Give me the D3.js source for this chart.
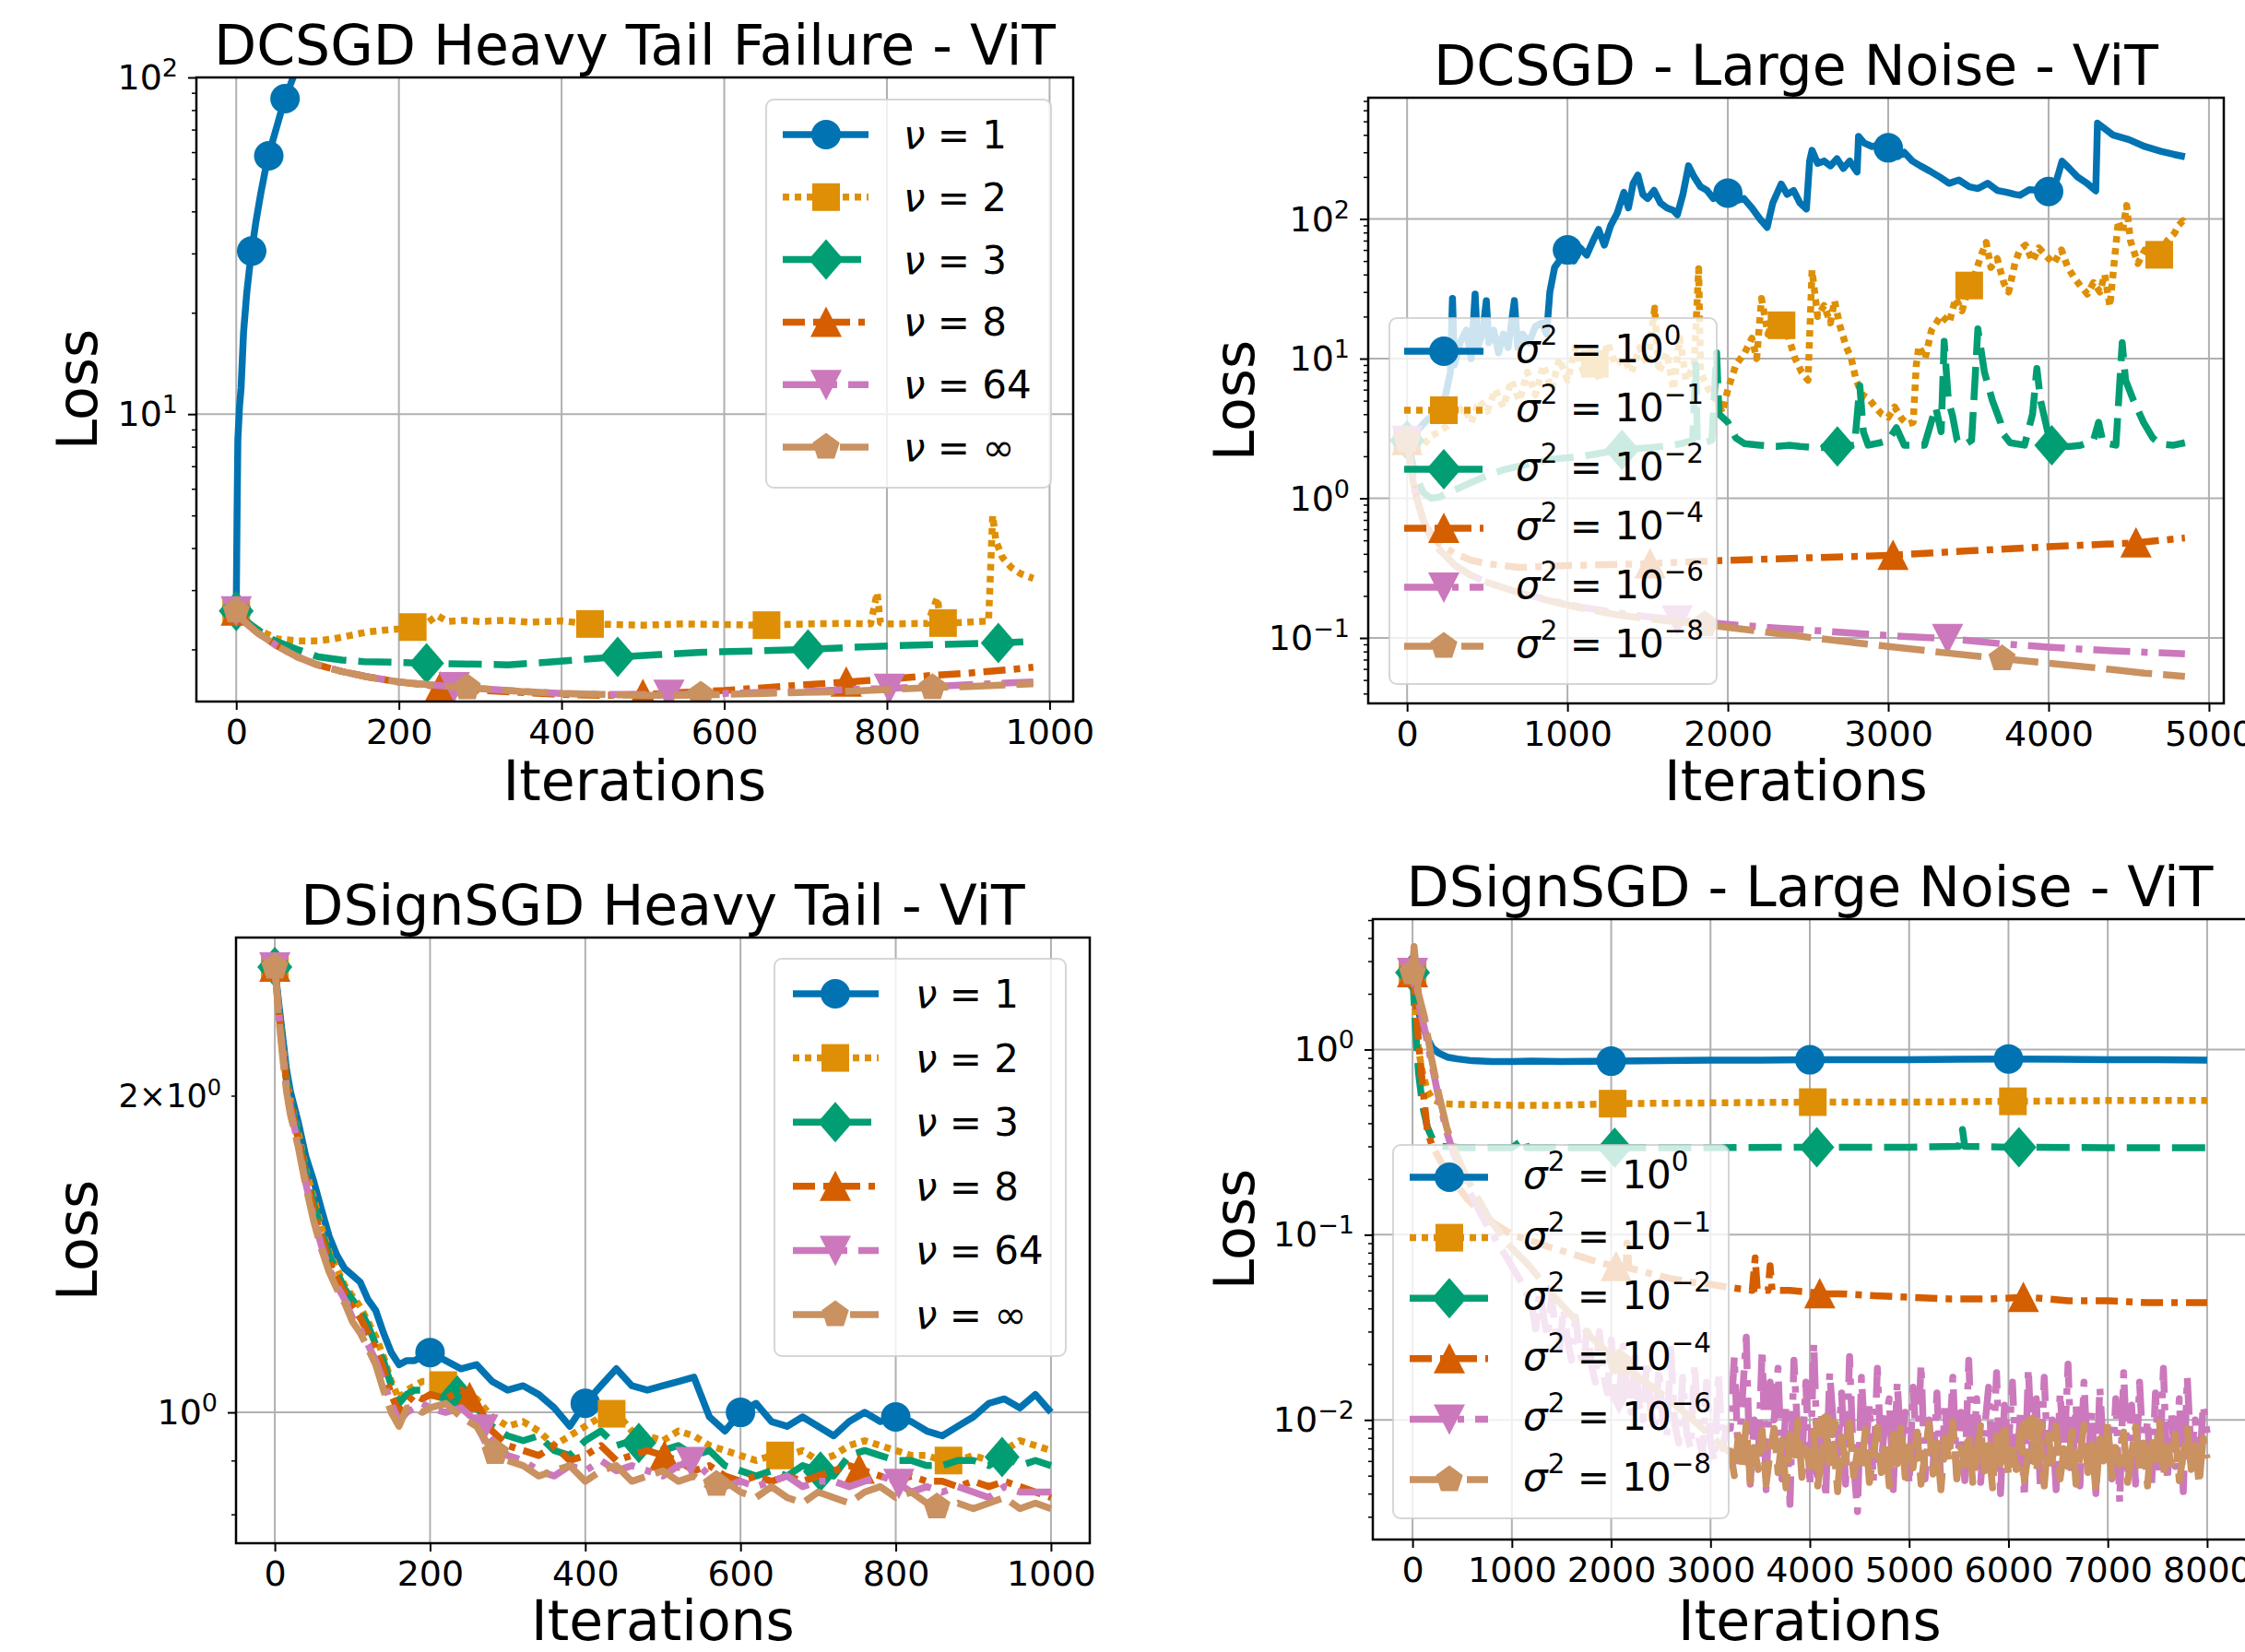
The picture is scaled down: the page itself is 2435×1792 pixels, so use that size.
<!DOCTYPE html>
<html>
<head>
<meta charset="utf-8">
<script src="https://cdn.jsdelivr.net/npm/d3@7"></script>
<style>
  body { margin: 0; background: #fff; overflow: hidden; }
  text { font-family: "DejaVu Sans", sans-serif; fill: #000; white-space: pre; }
</style>
</head>
<body>
<svg id="fig"></svg>
<script>
var W = 2435, H = 1792;

var colors = ["#0173b2", "#de8f05", "#029e73", "#d55e00", "#cc78bc", "#ca9161"];
var dashes = [null, "7,6", "36,13", "24,9,7,9", "40,12,7,12", "50,12"];
var shapes = ["circle", "square", "diamond", "triangle", "triangleDown", "pentagon"];
var nuLabels = ["1", "2", "3", "8", "64", "∞"];
var sigmaExps = ["0", "−1", "−2", "−4", "−6", "−8"];

// ---------- panel 1 : DCSGD heavy tail failure ----------
var p1Ticks = [0, 200, 400, 600, 800, 1000];
var p1Nu1X = [0, 1, 2, 4, 6, 9, 13, 16, 19, 24, 30, 35, 40, 45, 50, 55, 60, 65, 70, 78];
var p1Nu1Y = [2.6, 5, 8.4, 10.5, 12, 17.5, 23, 26.7, 30.5, 37, 45, 52, 58.5, 65, 71.6, 79, 86.5, 93, 100, 112];
var p1Nu2X = [0, 10, 25, 50, 75, 100, 120, 140, 160, 180, 200, 217, 235, 247, 260, 280, 300, 330, 360, 400, 435, 470, 500, 550, 600, 650, 700, 750, 780, 788, 792, 800, 850, 862, 866, 872, 900, 925, 930, 934, 942, 953, 965, 980];
var p1Nu2Y = [2.6, 2.45, 2.3, 2.15, 2.12, 2.12, 2.15, 2.2, 2.25, 2.28, 2.3, 2.33, 2.4, 2.52, 2.42, 2.44, 2.42, 2.44, 2.41, 2.43, 2.38, 2.37, 2.36, 2.38, 2.37, 2.36, 2.38, 2.39, 2.38, 2.95, 2.4, 2.38, 2.39, 2.85, 2.4, 2.39, 2.41, 2.43, 5.0, 4.2, 3.75, 3.5, 3.35, 3.25];
var p1Nu3X = [0, 10, 25, 46, 75, 101, 130, 157, 200, 234, 280, 334, 380, 430, 469, 520, 568, 640, 703, 760, 808, 870, 937, 978];
var p1Nu3Y = [2.6, 2.45, 2.3, 2.13, 2.0, 1.9, 1.86, 1.84, 1.83, 1.82, 1.81, 1.80, 1.83, 1.87, 1.9, 1.93, 1.96, 1.98, 2.0, 2.03, 2.05, 2.07, 2.09, 2.11];
var p1LowX = [0, 10, 25, 50, 75, 100, 130, 160, 200, 250, 300, 350, 400, 450, 500, 550, 600, 650, 700, 750, 800, 850, 900, 950, 980];
var p1Nu8Y = [2.6, 2.42, 2.25, 2.05, 1.9, 1.8, 1.72, 1.66, 1.6, 1.55, 1.51, 1.49, 1.47, 1.46, 1.47, 1.49, 1.51, 1.54, 1.57, 1.60, 1.63, 1.67, 1.70, 1.74, 1.77];
var p1Nu64Y = [2.6, 2.42, 2.25, 2.05, 1.9, 1.8, 1.72, 1.66, 1.6, 1.56, 1.53, 1.5, 1.48, 1.47, 1.47, 1.47, 1.48, 1.49, 1.5, 1.52, 1.53, 1.55, 1.57, 1.59, 1.6];
var p1NuInfY = [2.6, 2.42, 2.25, 2.05, 1.9, 1.8, 1.72, 1.66, 1.6, 1.56, 1.53, 1.5, 1.48, 1.47, 1.46, 1.46, 1.47, 1.48, 1.49, 1.50, 1.52, 1.54, 1.55, 1.57, 1.58];
var p1Marks = [[0, 19, 40, 60], [0, 217, 435, 652, 869], [0, 234, 469, 703, 937], [0, 251, 500, 750], [0, 268, 532, 803], [0, 284, 571, 856]];

// ---------- panel 2 : DCSGD large noise ----------
var p2Ticks = [0, 1000, 2000, 3000, 4000, 5000];
var p2S0X = [0,40,80,120,160,200,240,270,283,295,330,370,400,424,440,470,494,510,540,570,600,630,669,690,720,760,800,840,870,890,920,960,1000,1040,1080,1120,1160,1194,1230,1270,1310,1352,1380,1410,1439,1470,1500,1540,1580,1620,1660,1685,1720,1755,1790,1830,1870,1910,1950,2000,2050,2100,2150,2200,2245,2280,2333,2370,2410,2450,2490,2510,2525,2560,2600,2640,2680,2720,2760,2790,2806,2815,2850,2900,2950,3009,3060,3100,3150,3200,3260,3320,3380,3440,3506,3560,3620,3680,3740,3790,3822,3880,3940,4004,4050,4084,4130,4180,4240,4294,4305,4400,4500,4600,4700,4780,4850];
var p2S0Y = [2.6,2.9,3.2,3.6,3.9,4.3,5.5,8,27,9,13,16,10,29,12,15,26,13,16,11,15,12,26,12,15,13,17,18,15,30,45,52,60,50,62,55,70,84,65,90,110,155,120,180,206,150,140,160,130,120,115,107,150,240,200,170,160,140,160,153,135,140,120,100,87,130,178,150,160,130,118,260,310,250,260,240,270,230,260,230,217,390,350,330,340,320,280,300,260,240,220,200,180,190,170,165,180,160,155,150,148,162,160,157,190,259,230,200,180,159,485,400,370,330,305,290,279];
var p2S1X = [0,50,100,150,200,250,300,350,400,450,500,550,600,650,700,750,800,850,900,950,1000,1050,1100,1150,1200,1250,1300,1350,1400,1450,1500,1544,1570,1620,1660,1700,1740,1790,1818,1830,1880,1930,1965,2000,2050,2105,2150,2180,2210,2250,2290,2333,2380,2420,2460,2500,2525,2560,2600,2640,2665,2700,2740,2770,2800,2840,2875,2920,2960,3000,3040,3086,3120,3156,3175,3191,3230,3270,3331,3380,3420,3460,3506,3540,3580,3611,3640,3680,3720,3751,3790,3820,3856,3900,3940,3980,4032,4080,4120,4160,4200,4242,4280,4320,4350,4382,4410,4435,4460,4487,4510,4557,4600,4650,4697,4740,4785,4810,4837,4850];
var p2S1Y = [2.6,2.2,2.4,2.8,3.0,3.3,3.8,4.5,3.5,5,4.2,6,4.5,7,5,8,5.5,9,6,10,7,12,8,11,7,13,9,10,8,12,9,23,8,11,6,14,7,9,44,8,6,5,4.1,6,9,11,14,10,27,15,19,17.5,14,10,8,7,43,20,24,18,26,17,12,10,7,5.5,5.2,4.5,4,3.8,4.5,3.7,3.4,3.5,9,12.3,10,16,20.4,18,27,22,33.7,40,55,68,45,52,35,30,48,60,65,50,62,55,48,60,45,38,33,29,35,30,40,23.7,50,97,80,125,70,48,60,52,56,70,79,90,97,90];
var p2S2X = [0,50,100,150,200,300,400,500,600,700,800,900,1000,1100,1200,1300,1400,1500,1600,1700,1780,1800,1810,1850,1900,1930,1945,2000,2050,2105,2200,2300,2385,2450,2550,2683,2790,2823,2845,2875,2950,3000,3051,3100,3226,3296,3330,3349,3375,3401,3430,3470,3520,3559,3600,3650,3700,3716,3760,3850,3900,3927,3950,4014,4080,4137,4200,4280,4312,4340,4420,4459,4480,4530,4592,4650,4697,4780,4850];
var p2S2Y = [2.6,1.5,1.1,1.0,1.02,1.15,1.3,1.45,1.6,1.7,1.8,1.9,1.95,2.0,2.1,2.2,2.25,2.3,2.35,2.45,2.6,9,2.5,2.5,2.6,11,4,3.5,2.7,2.46,2.4,2.35,2.4,2.35,2.3,2.35,2.4,6.4,3,2.4,2.5,2.6,3.2,2.4,2.4,4.5,3,13.3,5,3.9,2.6,2.4,2.6,16.3,8,5,3.5,2.9,2.5,2.4,4,8.5,5,2.4,2.35,2.35,2.4,2.6,3.5,2.5,2.4,13,7,5,3.5,2.7,2.45,2.4,2.5];
var p2S4X = [0,30,60,100,150,200,300,400,500,700,1000,1500,2000,2500,3000,3500,4000,4545,4850];
var p2S4Y = [2.6,1.6,1.0,0.7,0.55,0.47,0.4,0.36,0.34,0.32,0.33,0.34,0.36,0.375,0.39,0.42,0.45,0.48,0.52];
var p2S6X = [0,25,50,100,150,200,300,400,500,700,900,1100,1300,1500,1700,2000,2300,2600,3000,3370,3700,4000,4300,4600,4850];
var p2S6Y = [2.6,1.6,1.1,0.7,0.52,0.43,0.33,0.28,0.25,0.21,0.185,0.165,0.152,0.142,0.134,0.125,0.118,0.112,0.104,0.099,0.091,0.086,0.082,0.079,0.077];
var p2S8X = [0,25,50,100,150,200,300,400,500,700,900,1100,1300,1500,1700,1850,2000,2300,2600,3000,3370,3710,4000,4300,4600,4850];
var p2S8Y = [2.6,1.6,1.1,0.7,0.52,0.43,0.33,0.28,0.25,0.21,0.183,0.162,0.147,0.137,0.13,0.125,0.119,0.108,0.098,0.087,0.078,0.071,0.066,0.061,0.056,0.053];
var p2Marks = [[0, 1000, 2000, 3000, 4000], [0, 1170, 2335, 3505, 4690], [0, 1340, 2683, 4020], [0, 1515, 3030, 4545], [0, 1685, 3370], [0, 1855, 3710]];

// ---------- panel 3 : DSignSGD heavy tail ----------
var p3Ticks = [0, 200, 400, 600, 800, 1000];
var p3X = [0, 5, 10, 15].concat(d3.range(20, 200, 10), d3.range(200, 1001, 20));
var p3Nu1Y = [2.65,2.45,2.28,2.12,2.02,1.89,1.75,1.66,1.56,1.47,1.41,1.37,1.35,1.33,1.28,1.25,1.19,1.14,1.11,1.12,1.12,1.13,1.14,
  1.12,1.10,1.11,1.07,1.05,1.06,1.04,1.01,0.97,1.02,1.06,1.10,1.06,1.05,1.06,1.07,1.08,0.99,0.96,1.00,1.02,0.98,0.97,0.99,0.97,0.95,0.98,1.00,0.98,0.99,0.98,0.96,0.95,0.97,0.99,1.02,1.03,1.01,1.04,1.00];
var p3Nu2Y = [2.65,2.42,2.24,2.08,1.98,1.85,1.70,1.60,1.50,1.42,1.37,1.32,1.29,1.26,1.22,1.18,1.13,1.07,1.03,1.05,1.06,1.07,1.07,
  1.06,1.05,1.03,0.99,0.97,0.98,0.96,0.93,0.95,0.97,0.99,1.00,0.96,0.95,0.94,0.96,0.95,0.93,0.92,0.91,0.90,0.91,0.91,0.92,0.90,0.91,0.93,0.94,0.93,0.92,0.91,0.91,0.90,0.90,0.91,0.90,0.92,0.94,0.93,0.92];
var p3Nu3Y = [2.65,2.42,2.23,2.07,1.97,1.84,1.69,1.58,1.49,1.41,1.36,1.31,1.28,1.25,1.21,1.16,1.12,1.06,1.02,1.04,1.05,1.05,1.04,
  1.03,1.04,1.01,0.97,0.95,0.94,0.95,0.92,0.91,0.94,0.96,0.93,0.94,0.93,0.92,0.93,0.91,0.92,0.89,0.88,0.87,0.88,0.87,0.89,0.88,0.87,0.91,0.92,0.91,0.90,0.90,0.89,0.89,0.90,0.90,0.89,0.91,0.89,0.90,0.89];
var p3Nu8Y = [2.65,2.40,2.22,2.06,1.96,1.82,1.67,1.56,1.47,1.39,1.34,1.30,1.26,1.23,1.19,1.15,1.10,1.04,1.00,1.02,1.04,1.03,1.04,
  1.03,1.05,1.02,0.96,0.93,0.92,0.91,0.93,0.90,0.91,0.93,0.90,0.91,0.92,0.91,0.90,0.88,0.89,0.87,0.86,0.87,0.86,0.87,0.86,0.87,0.88,0.89,0.88,0.87,0.86,0.87,0.86,0.86,0.85,0.86,0.85,0.86,0.85,0.84,0.83];
var p3Nu64Y = [2.65,2.40,2.20,2.04,1.94,1.80,1.65,1.53,1.44,1.37,1.32,1.28,1.23,1.20,1.16,1.12,1.07,1.02,0.98,1.00,1.01,1.02,1.01,
  1.00,1.01,0.98,0.94,0.91,0.90,0.88,0.87,0.89,0.88,0.90,0.88,0.89,0.88,0.87,0.89,0.90,0.87,0.85,0.86,0.85,0.86,0.87,0.85,0.86,0.86,0.85,0.86,0.87,0.86,0.84,0.85,0.84,0.85,0.84,0.83,0.85,0.84,0.84,0.84];
var p3NuInfY = [2.65,2.38,2.18,2.02,1.92,1.79,1.64,1.52,1.43,1.36,1.31,1.27,1.22,1.19,1.15,1.11,1.05,1.00,0.97,1.01,1.01,1.00,1.01,
  1.02,0.99,0.97,0.92,0.90,0.89,0.87,0.88,0.89,0.86,0.88,0.89,0.86,0.87,0.88,0.86,0.87,0.85,0.86,0.84,0.83,0.85,0.83,0.82,0.84,0.83,0.82,0.84,0.85,0.83,0.84,0.82,0.81,0.82,0.81,0.82,0.83,0.81,0.82,0.81];
var p3Marks = [[0, 200, 400, 600, 800], [0, 217, 434, 651, 868], [0, 235, 469, 703, 937], [0, 251, 502, 753], [0, 268, 536, 804], [0, 284, 569, 853]];

// ---------- panel 4 : DSignSGD large noise ----------
var p4Ticks = [0, 1000, 2000, 3000, 4000, 5000, 6000, 7000, 8000];
var p4S0X = [0,30,60,100,150,200,260,350,450,600,800,1000,1200,1500,2000,2500,3000,3500,4000,4500,5000,5500,6000,6500,7000,7500,8000];
var p4S0Y = [2.6,2.0,1.6,1.35,1.15,1.02,0.96,0.91,0.89,0.87,0.86,0.86,0.865,0.86,0.865,0.87,0.875,0.875,0.88,0.88,0.88,0.885,0.89,0.885,0.88,0.88,0.875];
var p4S1X = [0,30,60,100,150,200,300,500,1000,1500,2000,3000,4000,5000,6000,7000,8000];
var p4S1Y = [2.6,1.6,1.0,0.75,0.6,0.54,0.51,0.505,0.50,0.50,0.51,0.515,0.52,0.52,0.525,0.53,0.53];
var p4S2X = [0,30,60,100,150,200,300,500,1000,1130,1150,2000,3000,4000,5000,5500,5537,5560,6000,7000,8000];
var p4S2Y = [2.6,1.3,0.75,0.5,0.38,0.33,0.30,0.295,0.295,0.33,0.295,0.295,0.295,0.297,0.297,0.30,0.37,0.30,0.297,0.295,0.295];
var p4S4X = [0,30,60,100,150,200,340,555,770,1000,1185,1400,1600,1800,2016,2150,2160,2180,2430,2600,2845,3000,3180,3300,3420,3450,3470,3580,3600,3620,3800,4000,4111,4300,4600,5000,5400,5800,6194,6600,7000,7400,7800,8000];
var p4S4Y = [2.6,1.8,1.1,0.65,0.36,0.30,0.22,0.155,0.12,0.10,0.093,0.085,0.079,0.073,0.068,0.066,0.09,0.066,0.061,0.058,0.055,0.054,0.052,0.051,0.05,0.075,0.051,0.05,0.068,0.05,0.05,0.049,0.048,0.048,0.047,0.046,0.045,0.045,0.046,0.044,0.044,0.043,0.043,0.043];
var p4S6HeadX = [0,15,30,60,120,190,263,343,408,550,758,950,1100];
var p4S6HeadY = [2.6,3.2,2.6,1.8,1.3,0.85,0.55,0.36,0.28,0.18,0.11,0.075,0.055];
var p4NoiseStep = 40;
var p4S6NoiseStart = 1200;
var p4S6NoiseY = [
  0.042,0.031,0.050,0.036,0.028,0.046,0.030,0.024,0.040,0.027,
  0.021,0.036,0.024,0.019,0.033,0.020,0.016,0.030,0.018,0.014,
  0.027,0.016,0.013,0.025,0.014,0.011,0.023,0.012,0.0100,0.021,
  0.011,0.0090,0.019,0.0100,0.0080,0.024,0.0095,0.0075,0.017,0.0085,
  0.0070,0.020,0.0080,0.0065,0.016,0.0075,0.0060,0.018,0.0070,0.0090,
  0.009,0.022,0.006,0.013,0.028,0.0045,0.010,0.006,0.024,0.0042,
  0.016,0.010,0.019,0.0048,0.012,0.0035,0.021,0.008,0.006,0.016,
  0.0044,0.026,0.0055,0.011,0.0038,0.018,0.009,0.0065,0.014,0.0045,
  0.022,0.0058,0.0032,0.017,0.007,0.012,0.0047,0.019,0.006,0.010,
  0.013,0.0042,0.016,0.0068,0.011,0.0045,0.015,0.0062,0.020,0.0048,
  0.010,0.0055,0.014,0.0043,0.012,0.0065,0.017,0.005,0.011,0.0047,
  0.021,0.0058,0.013,0.0046,0.009,0.015,0.0052,0.018,0.0040,0.012,
  0.0070,0.016,0.0050,0.011,0.0038,0.019,0.0060,0.013,0.0045,0.017,
  0.0055,0.010,0.0042,0.014,0.0065,0.020,0.0050,0.012,0.0044,0.016,
  0.0058,0.011,0.0040,0.015,0.0062,0.009,0.0048,0.013,0.0036,0.018,
  0.0054,0.012,0.0045,0.016,0.0060,0.010,0.0043,0.014,0.0052,0.019,
  0.0047,0.011,0.0056,0.013,0.0041,0.017,0.0064,0.010,0.0050,0.012,
  0.0085];
var p4S8HeadX = [0,15,30,60,120,190,263,343,408,550,758,950,1175,1400,1592,1800,2008,2200,2425,2650,2840,3000,3175];
var p4S8HeadY = [2.6,3.6,3.0,2.0,1.5,0.9,0.58,0.38,0.3,0.2,0.126,0.09,0.068,0.048,0.037,0.028,0.022,0.018,0.015,0.012,0.0098,0.0082,0.0068];
var p4S8NoiseStart = 3200;
var p4S8NoiseY = [
  0.0068,0.0050,0.0082,0.0057,0.0095,0.0046,0.0071,0.0054,0.0088,0.0045,0.0066,0.0090,0.0052,0.0078,0.0043,0.0083,0.0060,0.0099,0.0049,0.0070,
  0.0056,0.0087,0.0044,0.0063,0.0092,0.0053,0.0074,0.0041,0.0081,0.0059,0.0096,0.0050,0.0068,0.0055,0.0089,0.0046,0.0064,0.0091,0.0052,0.0077,
  0.0044,0.0084,0.0058,0.0094,0.0049,0.0072,0.0055,0.0086,0.0045,0.0067,0.0095,0.0051,0.0075,0.0042,0.0080,0.0061,0.0098,0.0048,0.0071,0.0057,
  0.0085,0.0046,0.0065,0.0093,0.0053,0.0073,0.0043,0.0082,0.0058,0.0097,0.0050,0.0069,0.0054,0.0088,0.0047,0.0066,0.0090,0.0052,0.0076,0.0044,
  0.0083,0.0059,0.0093,0.0048,0.0070,0.0056,0.0087,0.0045,0.0064,0.0094,0.0052,0.0074,0.0041,0.0079,0.0060,0.0096,0.0049,0.0071,0.0057,0.0086,
  0.0046,0.0066,0.0092,0.0053,0.0075,0.0044,0.0081,0.0061,0.0097,0.0050,0.0072,0.0058,0.0084,0.0047,0.0065,0.0090,0.0054,0.0073,0.0045,0.0080,0.0062];
var p4Marks = [[0, 2000, 4000, 6000], [0, 2015, 4030, 6045], [0, 2035, 4070, 6105], [0, 2050, 4100, 6150], [0, 2080, 4080, 6000], [0, 2080, 4160, 6240]];

// noisy tails: x grid for the typed values
var p4S6X = p4S6HeadX.concat(p4S6NoiseY.map(function (v, i) { return p4S6NoiseStart + i * p4NoiseStep; }));
var p4S6Y = p4S6HeadY.concat(p4S6NoiseY);
var p4S8X = p4S8HeadX.concat(p4S8NoiseY.map(function (v, i) { return p4S8NoiseStart + i * p4NoiseStep; }));
var p4S8Y = p4S8HeadY.concat(p4S8NoiseY);

var svg = d3.select("#fig").attr("width", W).attr("height", H);

// marker shapes (offsets around the data point)
function markerPath(shape) {
  var p = d3.path();
  if (shape === "circle") {
    p.arc(0, 0, 16, 0, 2 * Math.PI);
  } else if (shape === "square") {
    p.rect(-15, -15, 30, 30);
  } else if (shape === "diamond") {
    p.moveTo(0, -22); p.lineTo(19, 0); p.lineTo(0, 22); p.lineTo(-19, 0); p.closePath();
  } else if (shape === "triangle") {
    p.moveTo(0, -17); p.lineTo(17, 16); p.lineTo(-17, 16); p.closePath();
  } else if (shape === "triangleDown") {
    p.moveTo(0, 17); p.lineTo(17, -16); p.lineTo(-17, -16); p.closePath();
  } else {
    for (var i = 0; i < 5; i++) {
      var a = -Math.PI / 2 + i * 2 * Math.PI / 5;
      if (i) p.lineTo(15.5 * Math.cos(a), 15.5 * Math.sin(a));
      else p.moveTo(15.5 * Math.cos(a), 15.5 * Math.sin(a));
    }
    p.closePath();
  }
  return p.toString();
}

// value of a series at x (log-linear between neighbours)
function valueAt(xs, ys, xv) {
  var i = d3.bisectRight(xs, xv);
  if (i <= 0) return ys[0];
  if (i >= xs.length) return ys[ys.length - 1];
  var t = (xv - xs[i - 1]) / (xs[i] - xs[i - 1]);
  return Math.exp(Math.log(ys[i - 1]) * (1 - t) + Math.log(ys[i]) * t);
}

function expText(k) { return k < 0 ? "−" + (-k) : "" + k; }

var panels = [
  { id: 1, left: 213, right: 1164, top: 84, bottom: 761, xDomain: [-49, 1029], yDomain: [1.40, 100],
    xTicks: p1Ticks, title: "DCSGD Heavy Tail Failure - ViT", lossX: 105, iterY: 868, kind: "nu",
    xs: [p1Nu1X, p1Nu2X, p1Nu3X, p1LowX, p1LowX, p1LowX],
    ys: [p1Nu1Y, p1Nu2Y, p1Nu3Y, p1Nu8Y, p1Nu64Y, p1NuInfY], marks: p1Marks,
    legend: { x0: 831, y0: 108, x1: 1140, y1: 529, row0: 146, step: 67.8, h0: 849, h1: 942, hm: 896, tx: 980 } },
  { id: 2, left: 1484, right: 2412, top: 106, bottom: 763, xDomain: [-242.5, 5092.5], yDomain: [0.034, 738],
    xTicks: p2Ticks, title: "DCSGD - Large Noise - ViT", lossX: 1360, iterY: 868, kind: "sigma",
    xs: [p2S0X, p2S1X, p2S2X, p2S4X, p2S6X, p2S8X],
    ys: [p2S0Y, p2S1Y, p2S2Y, p2S4Y, p2S6Y, p2S8Y], marks: p2Marks,
    legend: { x0: 1507, y0: 345, x1: 1862, y1: 742, row0: 381, step: 64, h0: 1523, h1: 1609, hm: 1566, tx: 1644 } },
  { id: 3, left: 256, right: 1182, top: 1017, bottom: 1674, xDomain: [-50, 1050], yDomain: [0.751, 2.827],
    xTicks: p3Ticks, title: "DSignSGD Heavy Tail - ViT", lossX: 105, iterY: 1779, kind: "nu", minorLabels: [2],
    xs: [p3X, p3X, p3X, p3X, p3X, p3X],
    ys: [p3Nu1Y, p3Nu2Y, p3Nu3Y, p3Nu8Y, p3Nu64Y, p3NuInfY], marks: p3Marks,
    legend: { x0: 840, y0: 1040, x1: 1156, y1: 1471, row0: 1078, step: 69.6, h0: 860, h1: 953, hm: 906, tx: 993 } },
  { id: 4, left: 1489, right: 2437, top: 997, bottom: 1670, xDomain: [-400, 8400], yDomain: [0.00226, 5.06],
    xTicks: p4Ticks, title: "DSignSGD - Large Noise - ViT", lossX: 1360, iterY: 1779, kind: "sigma",
    xs: [p4S0X, p4S1X, p4S2X, p4S4X, p4S6X, p4S8X],
    ys: [p4S0Y, p4S1Y, p4S2Y, p4S4Y, p4S6Y, p4S8Y], marks: p4Marks,
    legend: { x0: 1511, y0: 1242, x1: 1875, y1: 1647, row0: 1277, step: 65.6, h0: 1529, h1: 1614, hm: 1572, tx: 1652 } }
];

function drawLegendLabel(t, kind, i, fs) {
  if (kind === "nu") {
    t.append("tspan").attr("font-style", "italic").text("ν");
    t.append("tspan").text(" = " + nuLabels[i]);
  } else {
    t.append("tspan").attr("font-style", "italic").text("σ");
    t.append("tspan").attr("font-size", fs * 0.7).attr("dy", -19).text("2");
    t.append("tspan").attr("dy", 19).text(" = 10");
    t.append("tspan").attr("font-size", fs * 0.7).attr("dy", -19).text(sigmaExps[i]);
  }
}

function drawPanel(p) {
  var g = svg.append("g");
  var x = d3.scaleLinear().domain(p.xDomain).range([p.left, p.right]);
  var y = d3.scaleLog().domain(p.yDomain).range([p.bottom, p.top]);

  var lo = Math.log10(p.yDomain[0]), hi = Math.log10(p.yDomain[1]);
  var majors = d3.range(Math.ceil(lo - 1e-9), Math.floor(hi + 1e-9) + 1).map(function (k) { return Math.pow(10, k); });
  var minors = [];
  d3.range(Math.floor(lo), Math.floor(hi) + 1).forEach(function (k) {
    for (var m = 2; m <= 9; m++) {
      var v = m * Math.pow(10, k);
      if (v >= p.yDomain[0] && v <= p.yDomain[1]) minors.push(v);
    }
  });

  // grid
  g.append("g").selectAll("line").data(p.xTicks).enter().append("line")
    .attr("x1", function (d) { return x(d); }).attr("x2", function (d) { return x(d); })
    .attr("y1", p.top).attr("y2", p.bottom)
    .attr("stroke", "#b0b0b0").attr("stroke-width", 2);
  g.append("g").selectAll("line").data(majors).enter().append("line")
    .attr("x1", p.left).attr("x2", p.right)
    .attr("y1", function (d) { return y(d); }).attr("y2", function (d) { return y(d); })
    .attr("stroke", "#b0b0b0").attr("stroke-width", 2);

  // series
  svg.append("clipPath").attr("id", "clip" + p.id).append("rect")
    .attr("x", p.left).attr("y", p.top).attr("width", p.right - p.left).attr("height", p.bottom - p.top);
  var plot = g.append("g").attr("clip-path", "url(#clip" + p.id + ")");
  var line = d3.line().x(function (d) { return x(d[0]); }).y(function (d) { return y(d[1]); });

  p.ys.forEach(function (ys, i) {
    var xs = p.xs[i];
    var pts = ys.map(function (v, j) { return [xs[j], v]; });
    var sg = plot.append("g");
    sg.append("path").datum(pts).attr("d", line)
      .attr("fill", "none").attr("stroke", colors[i]).attr("stroke-width", 7.5)
      .attr("stroke-dasharray", dashes[i]).attr("stroke-linejoin", "round");
    sg.selectAll(".mk").data(p.marks[i]).enter().append("path")
      .attr("d", markerPath(shapes[i]))
      .attr("transform", function (d) { return "translate(" + x(d) + "," + y(valueAt(xs, ys, d)) + ")"; })
      .attr("fill", colors[i]);
  });

  // x axis
  var xAxis = d3.axisBottom(x).tickValues(p.xTicks).tickSize(9).tickSizeOuter(0).tickPadding(10).tickFormat(d3.format("d"));
  var xg = g.append("g").attr("transform", "translate(0," + p.bottom + ")").call(xAxis);
  xg.select(".domain").remove();
  xg.selectAll("line").attr("stroke-width", 2);
  xg.attr("font-size", 38).attr("font-family", "DejaVu Sans");

  // y axis (log): major + minor ticks
  var yg = g.append("g").attr("transform", "translate(" + p.left + ",0)")
    .call(d3.axisLeft(y).tickValues(majors).tickSize(9).tickSizeOuter(0).tickFormat(""));
  yg.select(".domain").remove();
  yg.selectAll("line").attr("stroke-width", 2);
  var ymg = g.append("g").attr("transform", "translate(" + p.left + ",0)")
    .call(d3.axisLeft(y).tickValues(minors).tickSize(5).tickSizeOuter(0).tickFormat(""));
  ymg.select(".domain").remove();
  ymg.selectAll("line").attr("stroke-width", 1.5);

  majors.forEach(function (v) {
    var t = g.append("text").attr("x", p.left - 20).attr("y", y(v) + 13)
      .attr("text-anchor", "end").attr("font-size", 38);
    t.append("tspan").text("10");
    t.append("tspan").attr("font-size", 27).attr("dy", -14).text(expText(Math.round(Math.log10(v))));
  });
  (p.minorLabels || []).forEach(function (v) {
    var k = Math.floor(Math.log10(v));
    var t = g.append("text").attr("x", p.left - 16).attr("y", y(v) + 12)
      .attr("text-anchor", "end").attr("font-size", 35);
    t.append("tspan").text(Math.round(v / Math.pow(10, k)) + "×10");
    t.append("tspan").attr("font-size", 24).attr("dy", -13).text(expText(k));
  });

  // spines
  g.append("rect").attr("x", p.left).attr("y", p.top)
    .attr("width", p.right - p.left).attr("height", p.bottom - p.top)
    .attr("fill", "none").attr("stroke", "#000").attr("stroke-width", 2.5);

  // titles and labels
  var cx = (p.left + p.right) / 2;
  g.append("text").attr("x", cx).attr("y", p.top - 14).attr("text-anchor", "middle")
    .attr("font-size", 60).text(p.title);
  g.append("text").attr("x", cx).attr("y", p.iterY).attr("text-anchor", "middle")
    .attr("font-size", 60).text("Iterations");
  g.append("text").attr("transform", "translate(" + p.lossX + "," + ((p.top + p.bottom) / 2) + ") rotate(-90)")
    .attr("text-anchor", "middle").attr("font-size", 60).text("Loss");

  // legend
  var L = p.legend;
  var lg = g.append("g");
  lg.append("rect").attr("x", L.x0).attr("y", L.y0)
    .attr("width", L.x1 - L.x0).attr("height", L.y1 - L.y0).attr("rx", 8)
    .attr("fill", "#fff").attr("fill-opacity", 0.8)
    .attr("stroke", "#cccccc").attr("stroke-opacity", 0.8).attr("stroke-width", 2);
  colors.forEach(function (c, i) {
    var cy = L.row0 + i * L.step;
    lg.append("line").attr("x1", L.h0).attr("x2", L.h1).attr("y1", cy).attr("y2", cy)
      .attr("stroke", c).attr("stroke-width", 7.5).attr("stroke-dasharray", dashes[i]);
    lg.append("path").attr("d", markerPath(shapes[i]))
      .attr("transform", "translate(" + L.hm + "," + cy + ")").attr("fill", c);
    var fs = 42;
    var t = lg.append("text").attr("x", L.tx).attr("y", cy + (p.kind === "nu" ? 15 : 12))
      .attr("font-size", fs);
    drawLegendLabel(t, p.kind, i, fs);
  });
}

panels.forEach(drawPanel);
</script>
</body>
</html>
